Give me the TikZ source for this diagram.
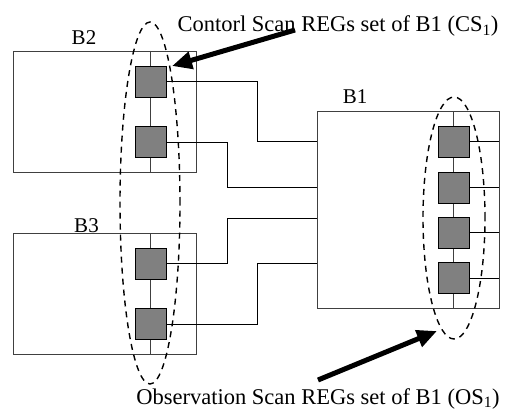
\documentclass[tikz,border=0pt]{standalone}
\usepackage{fontspec}
\setmainfont{Liberation Serif}
\usetikzlibrary{shapes.geometric,arrows.meta}
\begin{document}
\begin{tikzpicture}[x=1pt,y=-1pt,
  block/.style={draw=black!75,line width=0.8pt,minimum width=183pt,inner sep=0pt},
  reg/.style={draw=black,line width=0.8pt,fill=black!50,minimum width=31pt,minimum height=31pt,inner sep=0pt},
  chain/.style={draw=black!75,line width=0.8pt},
  wire/.style={draw=black,line width=0.7pt},
  group/.style={draw=black,dashed,dash pattern=on 6pt off 5pt,line width=1.4pt,ellipse,inner sep=0pt},
  pointer/.style={line width=5pt,-{Triangle[length=20pt,width=17pt]}},
  lbl/.style={font=\fontsize{21}{24}\selectfont,inner sep=0pt},
  note/.style={font=\fontsize{22.5}{26}\selectfont,inner sep=0pt}]
\useasboundingbox (0,0) rectangle (506,412);

% blocks
\node[block,minimum height=121pt] (b2) at (104.5,111.5) {};
\node[block,minimum height=121pt] (b3) at (104.5,293.5) {};
\node[block,minimum width=182pt,minimum height=197pt] (b1) at (408,209.5) {};

\node[lbl,anchor=base] (t2) at (84,45) {B2};
\node[lbl,anchor=base] (t3) at (86.5,232) {B3};
\node[lbl,anchor=base] (t1) at (355,103) {B1};

% scan chains through each block
\draw[chain] (150.5,51) -- (150.5,172);
\draw[chain] (150.5,233) -- (150.5,354);
\draw[chain] (453.5,111) -- (453.5,308);

% scan registers
\node[reg] (r21) at (150.5,81.5) {};
\node[reg] (r22) at (150.5,142) {};
\node[reg] (r31) at (150.5,263.5) {};
\node[reg] (r32) at (150.5,324) {};
\node[reg] (r11) at (453.5,141.5) {};
\node[reg] (r12) at (453.5,187.5) {};
\node[reg] (r13) at (453.5,232.5) {};
\node[reg] (r14) at (453.5,278) {};

% wiring between blocks
\coordinate (k1) at (257,141);
\coordinate (k2) at (227,187.5);
\coordinate (k3) at (227,218);
\coordinate (k4) at (257,263);
\draw[wire] (r21.east) -| (k1) -- (k1 -| b1.west);
\draw[wire] (r22.east) -| (k2) -- (k2 -| b1.west);
\draw[wire] (r31.east) -| (k3) -- (k3 -| b1.west);
\draw[wire] (r32.east) -| (k4) -- (k4 -| b1.west);
\foreach \r in {r11,r12,r13,r14}
  \draw[wire] (\r.east) -- (\r.east -| b1.east);

% register groups
\node[group,minimum width=60pt,minimum height=362pt] (cs) at (150,203) {};
\node[group,minimum width=62pt,minimum height=242pt] (os) at (454,218) {};

% annotations
\node[note,anchor=base] (csl) at (338,32) {Contorl Scan REGs set of B1 (CS\textsubscript{1})};
\node[note,anchor=base] (osl) at (318,404) {Observation Scan REGs set of B1 (OS\textsubscript{1})};
\coordinate (ca) at (295,30);
\coordinate (cb) at (172,66);
\coordinate (oa) at (318,380);
\coordinate (ob) at (437,331);
\draw[pointer] (ca) -- (cb);
\draw[pointer] (oa) -- (ob);
\end{tikzpicture}
\end{document}
